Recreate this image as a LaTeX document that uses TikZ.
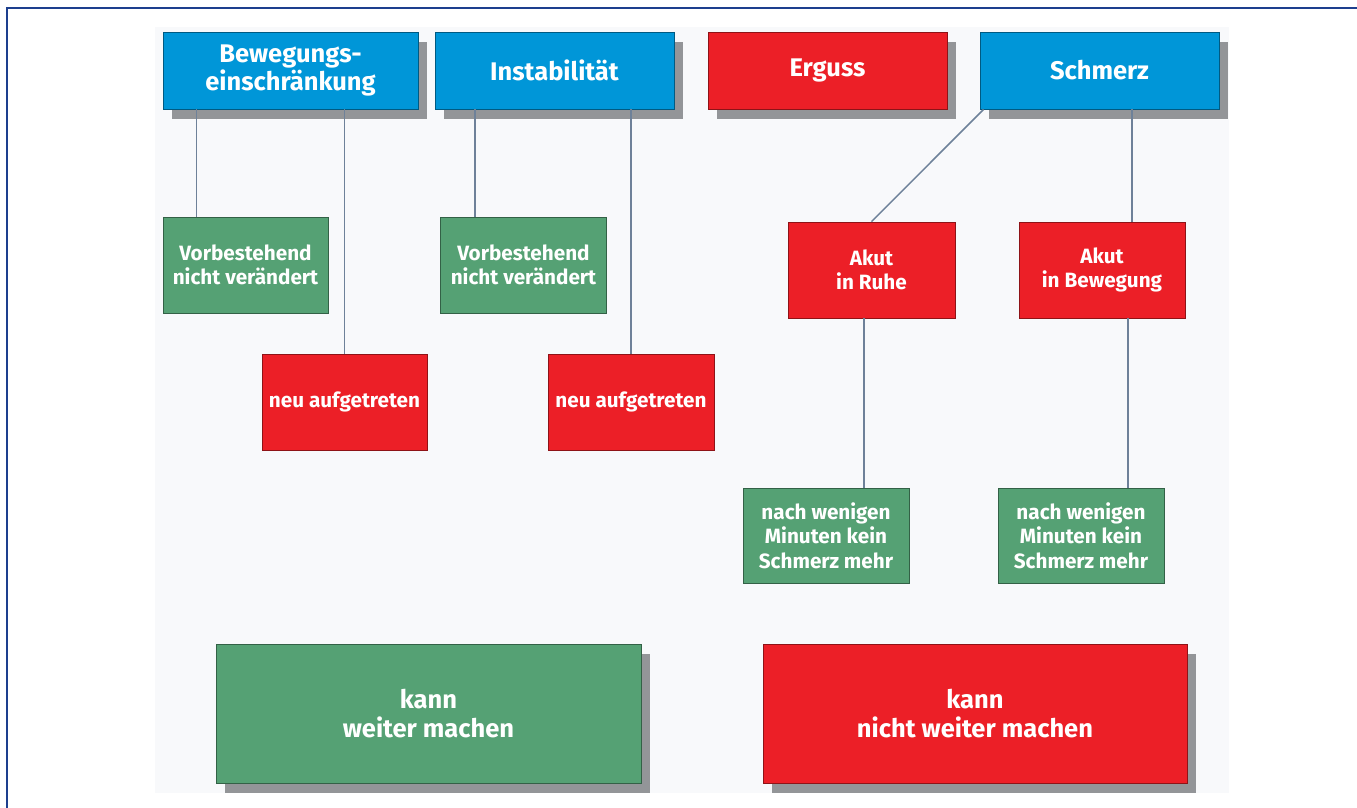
\documentclass[tikz,border=0pt]{standalone}
\usepackage{fontspec}
\setmainfont{Fira Sans}
\begin{document}
\begin{tikzpicture}[x=1pt,y=-1pt,
  box/.style={draw=#1!60!black, line width=0.8pt, fill=#1, text=white, font=\bfseries, align=center, inner sep=0pt},
  shadowed/.style={preaction={fill=shadowgray, transform canvas={xshift=9pt,yshift=-10pt}}},
  topf/.style={font=\fontsize{25.5}{28}\selectfont\bfseries},
  midf/.style={font=\fontsize{20.7}{24.5}\selectfont\bfseries},
  botf/.style={font=\fontsize{25.5}{29}\selectfont\bfseries},
  conn/.style={draw=connc, line width=1.5pt}]
\definecolor{bblue}{HTML}{0096D8}
\definecolor{rred}{HTML}{EC1F27}
\definecolor{ggreen}{HTML}{55A174}
\definecolor{shadowgray}{HTML}{939598}
\definecolor{connc}{HTML}{6E8199}
\definecolor{panel}{HTML}{F8F9FB}
\definecolor{frame}{HTML}{1D3F8E}
\useasboundingbox (0,0) rectangle (1357,808);
\fill[white] (0,0) rectangle (1357,808);
\fill[panel] (155,27) rectangle (1229,793);
\draw[frame, line width=1.6pt] (7,808) -- (7,8) -- (1357,8);
% top row
\node[box=bblue, shadowed, topf, minimum width=255pt, minimum height=77pt] (bew) at (290.5,70.5) {Bewegungs-\\einschränkung};
\node[box=bblue, shadowed, topf, minimum width=239pt, minimum height=77pt] (ins) at (554.5,70.5) {Instabilität};
\node[box=rred, shadowed, topf, minimum width=239pt, minimum height=77pt] (erg) at (827.5,70.5) {Erguss};
\node[box=bblue, shadowed, topf, minimum width=239pt, minimum height=77pt] (sch) at (1099.5,70.5) {Schmerz};
% second row
\node[box=ggreen, midf, minimum width=165pt, minimum height=96pt] (vor1) at (245.5,265) {Vorbestehend\\nicht verändert};
\node[box=rred, midf, minimum width=165pt, minimum height=96pt] (neu1) at (344.5,402) {neu aufgetreten};
\node[box=ggreen, midf, minimum width=166pt, minimum height=96pt] (vor2) at (523.5,265) {Vorbestehend\\nicht verändert};
\node[box=rred, midf, minimum width=166pt, minimum height=96pt] (neu2) at (631,402) {neu aufgetreten};
\node[box=rred, midf, minimum width=167pt, minimum height=96pt] (ruhe) at (871.5,270) {Akut\\in Ruhe};
\node[box=rred, midf, minimum width=166pt, minimum height=96pt] (bewg) at (1102,270) {Akut\\in Bewegung};
\node[box=ggreen, midf, minimum width=166pt, minimum height=95pt] (nach1) at (826,535.5) {nach wenigen\\Minuten kein\\Schmerz mehr};
\node[box=ggreen, midf, minimum width=166pt, minimum height=95pt] (nach2) at (1081,535.5) {nach wenigen\\Minuten kein\\Schmerz mehr};
% bottom
\node[box=ggreen, shadowed, botf, minimum width=425pt, minimum height=139pt] (kann) at (428.5,713.5) {kann\\weiter machen};
\node[box=rred, shadowed, botf, minimum width=424pt, minimum height=139pt] (nicht) at (975,713.5) {kann\\nicht weiter machen};
% connectors
\draw[conn] (bew.south -| vor1.north west) ++(34pt,0) coordinate (c1) -- (c1 |- vor1.north);
\draw[conn] (bew.south -| neu1.north) -- (neu1.north);
\draw[conn] (ins.south -| vor2.north west) ++(35pt,0) coordinate (c2) -- (c2 |- vor2.north);
\draw[conn] (ins.south -| neu2.north) -- (neu2.north);
\draw[conn] (sch.south west) ++(4pt,0) -- (ruhe.north);
\draw[conn] (sch.south -| bewg.north) ++(30pt,0) coordinate (c3) -- (c3 |- bewg.north);
\draw[conn] (ruhe.south -| nach1.north) ++(38pt,0) coordinate (c4) -- (c4 |- nach1.north);
\draw[conn] (bewg.south -| nach2.north) ++(47pt,0) coordinate (c5) -- (c5 |- nach2.north);
\end{tikzpicture}
\end{document}
